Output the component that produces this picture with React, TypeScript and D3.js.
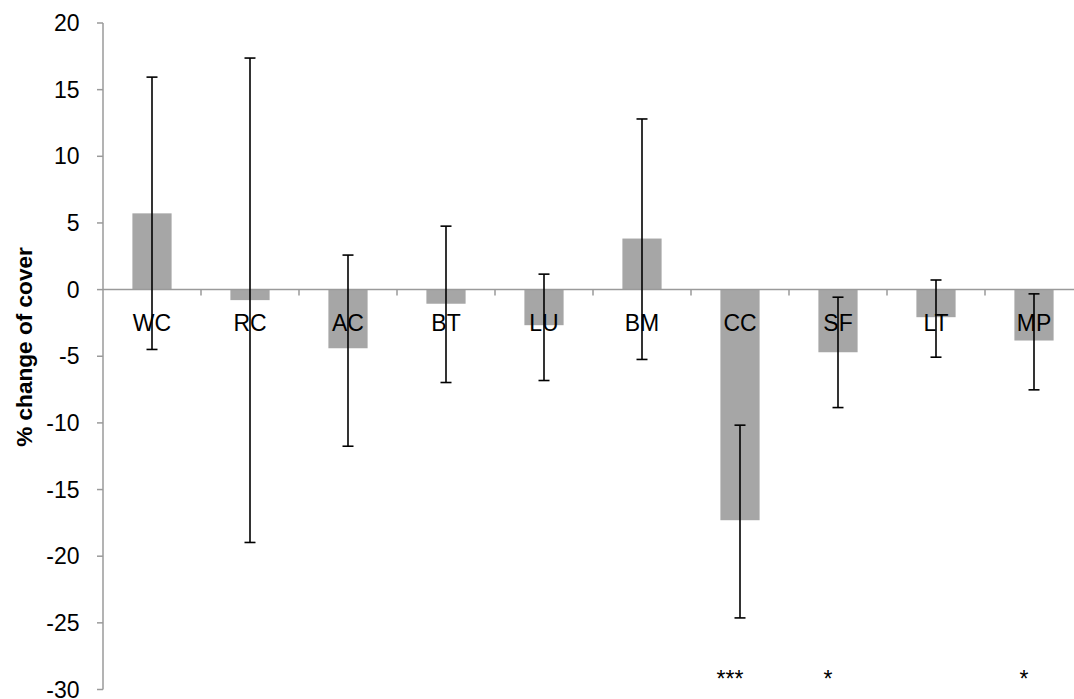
import React from "react";
import * as d3 from "d3";

const categories = ["WC", "RC", "AC", "BT", "LU", "BM", "CC", "SF", "LT", "MP"];
const means = [5.72, -0.79, -4.4, -1.06, -2.67, 3.83, -17.3, -4.7, -2.07, -3.82];
const errUpper = [15.94, 17.37, 2.59, 4.76, 1.16, 12.8, -10.17, -0.57, 0.72, -0.32];
const errLower = [-4.49, -18.97, -11.75, -6.97, -6.82, -5.24, -24.63, -8.85, -5.07, -7.52];
const significance = ["", "", "", "", "", "", "***", "*", "", "*"];
const yTicks = [20, 15, 10, 5, 0, -5, -10, -15, -20, -25, -30];
const yTitle = "% change of cover";

export default function App() {
  const W = 1074;
  const H = 699;
  const left = 103;
  const top = 23;
  const bottom = 689.5;
  const bandW = 98;
  const x = d3
    .scaleBand<string>()
    .domain(categories)
    .range([left, left + bandW * categories.length])
    .paddingInner(0)
    .paddingOuter(0);
  const y = d3.scaleLinear().domain([-30, 20]).range([bottom, top]);
  const barW = bandW * 0.4;
  const cap = 11;
  const axisColor = "#9a9a9a";
  const font = "Arial, 'Liberation Sans', Helvetica, sans-serif";
  const cx = (c: string) => (x(c) as number) + x.bandwidth() / 2;

  return (
    <svg
      width={W}
      height={H}
      style={{ position: "absolute", left: 0, top: 0, background: "#fff" }}
      fontFamily={font}
    >
      {/* bars */}
      {categories.map((c, i) => {
        const v = means[i];
        return (
          <rect
            key={"b" + c}
            x={cx(c) - barW / 2}
            y={Math.min(y(v), y(0))}
            width={barW}
            height={Math.abs(y(v) - y(0))}
            fill="#a6a6a6"
          />
        );
      })}
      {/* y axis */}
      <line x1={left} x2={left} y1={top} y2={bottom} stroke={axisColor} strokeWidth={1.5} />
      {yTicks.map((t) => (
        <g key={"t" + t}>
          <line x1={left - 6} x2={left} y1={y(t)} y2={y(t)} stroke={axisColor} strokeWidth={1.5} />
          <text
            x={left - 23.5}
            y={y(t)}
            dy="0.35em"
            textAnchor="end"
            fontSize={23}
            fill="#000"
          >
            {t}
          </text>
        </g>
      ))}
      {/* zero line + x ticks */}
      <line
        x1={left}
        x2={left + bandW * categories.length}
        y1={y(0)}
        y2={y(0)}
        stroke={axisColor}
        strokeWidth={1.5}
      />
      {categories.map((c) => (
        <line
          key={"xt" + c}
          x1={(x(c) as number) + x.bandwidth()}
          x2={(x(c) as number) + x.bandwidth()}
          y1={y(0)}
          y2={y(0) + 6}
          stroke={axisColor}
          strokeWidth={1.5}
        />
      ))}
      {/* category labels */}
      {categories.map((c) => (
        <text
          key={"l" + c}
          x={cx(c)}
          y={y(0) + 41}
          textAnchor="middle"
          fontSize={23}
          fill="#000"
        >
          {c}
        </text>
      ))}
      {/* error bars */}
      {categories.map((c, i) => {
        const xc = cx(c);
        return (
          <g key={"e" + c} stroke="#000" strokeWidth={1.6}>
            <line x1={xc} x2={xc} y1={y(errUpper[i])} y2={y(errLower[i])} />
            <line x1={xc - cap / 2} x2={xc + cap / 2} y1={y(errUpper[i])} y2={y(errUpper[i])} />
            <line x1={xc - cap / 2} x2={xc + cap / 2} y1={y(errLower[i])} y2={y(errLower[i])} />
          </g>
        );
      })}
      {/* significance */}
      {categories.map((c, i) =>
        significance[i] ? (
          <text
            key={"s" + c}
            x={cx(c) - 10}
            y={687}
            textAnchor="middle"
            fontSize={23}
            fill="#000"
          >
            {significance[i]}
          </text>
        ) : null
      )}
      {/* y title */}
      <text
        transform="translate(32, 347) rotate(-90)"
        textAnchor="middle"
        fontSize={22.6}
        fontWeight="bold"
        fill="#000"
      >
        {yTitle}
      </text>
    </svg>
  );
}
